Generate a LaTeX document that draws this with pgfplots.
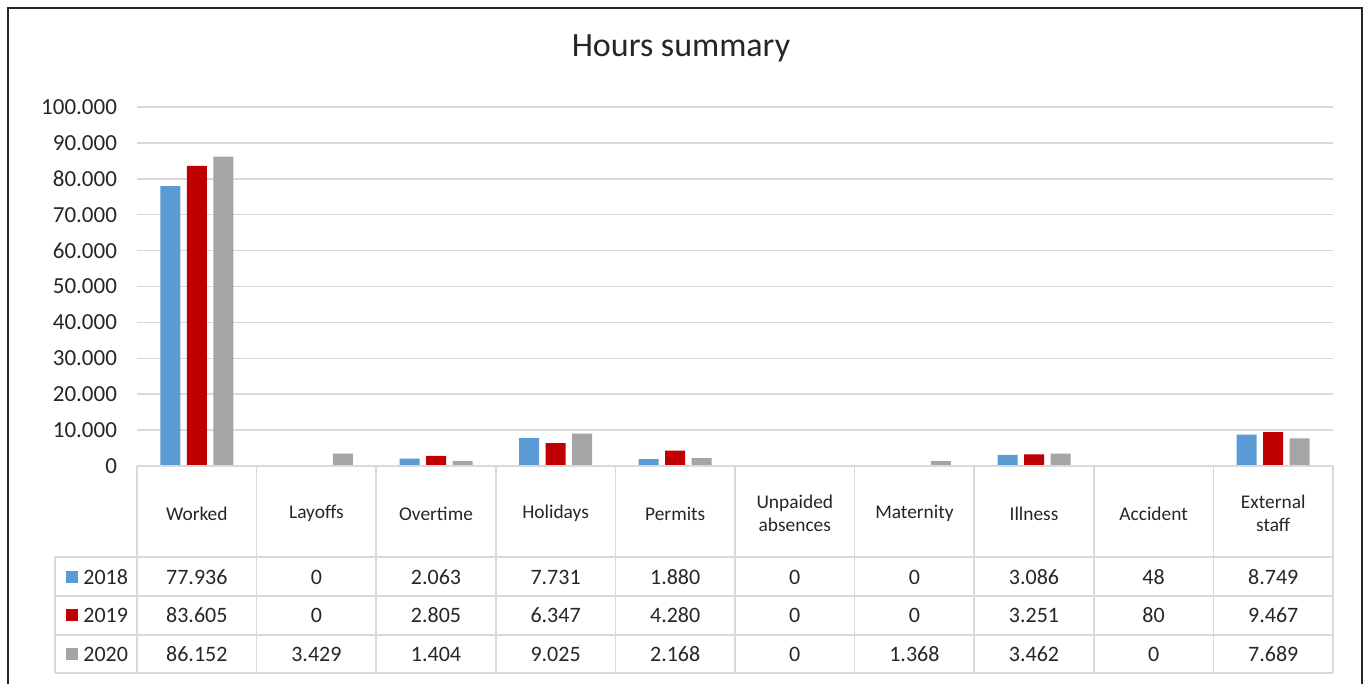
\documentclass[border=0pt]{standalone}
\usepackage{pgfplots}
\pgfplotsset{compat=1.18}
\usepackage{pgfplotstable}
\usepackage{fontspec}
\setmainfont{Carlito}

\definecolor{c18}{HTML}{5B9BD5}
\definecolor{c19}{HTML}{C00000}
\definecolor{c20}{HTML}{A5A5A5}
\definecolor{gridc}{HTML}{D9D9D9}
\definecolor{txt}{HTML}{262626}

\pgfplotstableread{
idx a b c
0 77936 83605 86152
1 0 0 3429
2 2063 2805 1404
3 7731 6347 9025
4 1880 4280 2168
5 0 0 0
6 0 0 1368
7 3086 3251 3462
8 48 80 0
9 8749 9467 7689
}\data

\pgfplotsset{
  common/.style={
    at={(0pt,0pt)}, anchor=south west,
    scale only axis, width=598pt, height=179.5pt,
    xmin=-0.5, xmax=9.5, ymin=0, ymax=100000,
    clip=false,
    /pgf/number format/fixed,
    /pgf/number format/precision=0,
    /pgf/number format/1000 sep={.},
    /pgf/number format/assume math mode=true,
  }
}

\begin{document}
\begin{tikzpicture}[x=1pt,y=1pt]
\useasboundingbox (-68.5,-109) rectangle (616.5,233);

\begin{axis}[common,
  ybar=3.25pt, bar width=10pt,
  ytick={0,10000,...,100000},
  scaled y ticks=false,
  xtick={0,...,9},
  xticklabels={Worked,Layoffs,Overtime,Holidays,Permits,{Unpaided\\absences},Maternity,Illness,Accident,{External\\staff}},
  axis line style={draw=none},
  tick style={draw=none},
  ymajorgrids,
  grid style={gridc, line width=0.75pt},
  yticklabel style={font=\fontsize{11.5}{13.5}\selectfont, text=txt, xshift=-6.5pt},
  xticklabel style={font=\fontsize{9.7}{11.5}\selectfont, text=txt, align=center, anchor=center, yshift=-19.5pt},
]
\addplot[fill=c18, draw=none] table[x=idx, y=a]{\data};
\addplot[fill=c19, draw=none] table[x=idx, y=b]{\data};
\addplot[fill=c20, draw=none] table[x=idx, y=c]{\data};
\end{axis}

\begin{axis}[common, hide axis,
  nodes near coords, point meta=explicit,
  every node near coord/.append style={anchor=center, font=\fontsize{11}{13}\selectfont, text=txt},
]
\addplot[draw=none, mark=none, every node near coord/.append style={yshift=-55.5pt}] table[x=idx, y expr=0, meta=a]{\data};
\addplot[draw=none, mark=none, every node near coord/.append style={yshift=-74.75pt}] table[x=idx, y expr=0, meta=b]{\data};
\addplot[draw=none, mark=none, every node near coord/.append style={yshift=-94pt}] table[x=idx, y expr=0, meta=c]{\data};
\end{axis}

% data table grid
\begin{scope}[gridc, line width=0.75pt]
\draw (0,0) -- (598,0);
\draw (-41,-45.5) -- (598,-45.5);
\draw (-41,-65) -- (598,-65);
\draw (-41,-84.5) -- (598,-84.5);
\draw (-41,-103.5) -- (598,-103.5);
\draw (-41,-45.5) -- (-41,-103.5);
\foreach \k in {0,...,10} { \draw (\k*59.8,0) -- (\k*59.8,-103.5); }
\end{scope}

% legend keys
\fill[c18] (-35.5,-58.5) rectangle ++(6,6);
\fill[c19] (-35.5,-77.75) rectangle ++(6,6);
\fill[c20] (-35.5,-97) rectangle ++(6,6);
\node[anchor=west, inner sep=0pt, font=\fontsize{11}{13}\selectfont, text=txt] at (-27,-55.5) {2018};
\node[anchor=west, inner sep=0pt, font=\fontsize{11}{13}\selectfont, text=txt] at (-27,-74.75) {2019};
\node[anchor=west, inner sep=0pt, font=\fontsize{11}{13}\selectfont, text=txt] at (-27,-94) {2020};

% title
\node[font=\fontsize{17}{20}\selectfont, text=txt] at (272,209) {Hours summary};

% outer frame
\draw[line width=1pt, black!85] (-64.5,-120) -- (-64.5,229) -- (612.5,229) -- (612.5,-120);
\end{tikzpicture}
\end{document}
